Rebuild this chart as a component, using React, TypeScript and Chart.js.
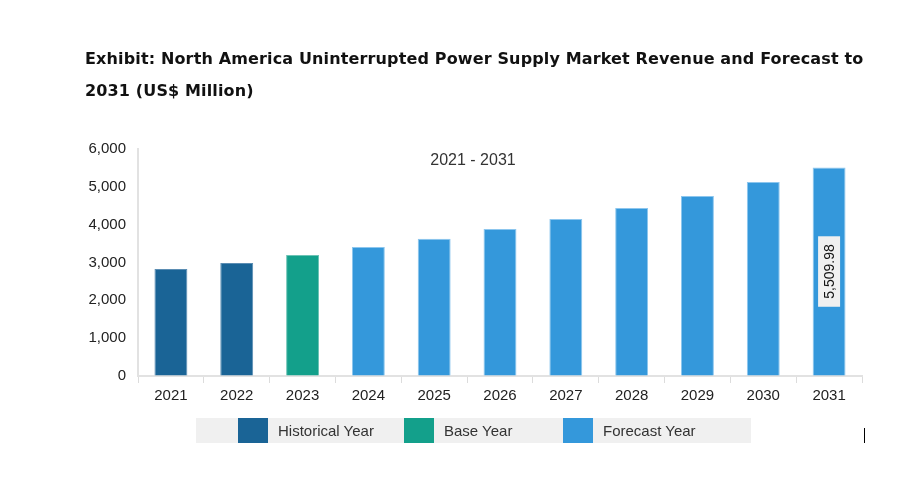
import React, { useEffect, useRef } from "react";
import { Chart, registerables } from "chart.js";

Chart.register(...registerables);

const titleLines = [
  "Exhibit: North America Uninterrupted Power Supply Market Revenue and Forecast to",
  "2031 (US$ Million)",
];
const years = ["2021", "2022", "2023", "2024", "2025", "2026", "2027", "2028", "2029", "2030", "2031"];
const revenue = [2828, 2990, 3198, 3410, 3625, 3885, 4150, 4440, 4760, 5130, 5509.98];
const yearType = ["h", "h", "b", "f", "f", "f", "f", "f", "f", "f", "f"];
const yTicks = [0, 1000, 2000, 3000, 4000, 5000, 6000];
const periodLabel = "2021 - 2031";
const legendItems = [
  { key: "h", label: "Historical Year" },
  { key: "b", label: "Base Year" },
  { key: "f", label: "Forecast Year" },
];
const colors: Record<string, string> = { h: "#1a6496", b: "#13a08b", f: "#3498db" };
const borderColors: Record<string, string> = { h: "#5b8db3", b: "#6cc3b5", f: "#8cc6ee" };

const FONT = "'Liberation Sans', Arial, sans-serif";

const overlayPlugin = {
  id: "overlay",
  afterDatasetsDraw(chart: any) {
    const { ctx, chartArea } = chart;
    ctx.save();
    ctx.font = `16px ${FONT}`;
    ctx.fillStyle = "#333";
    ctx.textAlign = "center";
    ctx.textBaseline = "middle";
    ctx.fillText(periodLabel, (chartArea.left + chartArea.right) / 2 - 27, chartArea.top + 12);

    const meta = chart.getDatasetMeta(0);
    const last = revenue.length - 1;
    const el = meta.data[last];
    const cx = el.x;
    const cy = (el.y + el.base) / 2;
    const text = revenue[last].toLocaleString("en-US", { minimumFractionDigits: 2, maximumFractionDigits: 2 });
    ctx.translate(cx, cy);
    ctx.rotate(-Math.PI / 2);
    ctx.font = `14px ${FONT}`;
    const w = ctx.measureText(text).width;
    ctx.fillStyle = "#f0f0f0";
    ctx.fillRect(-w / 2 - 8, -11, w + 16, 22);
    ctx.fillStyle = "#111";
    ctx.fillText(text, 0, 1);
    ctx.restore();
  },
};

export default function App() {
  const ref = useRef<HTMLCanvasElement>(null);
  useEffect(() => {
    if (!ref.current) return;
    const chart = new Chart(ref.current, {
      type: "bar",
      data: {
        labels: years,
        datasets: [
          {
            data: revenue,
            backgroundColor: yearType.map((t) => colors[t]),
            borderColor: yearType.map((t) => borderColors[t]),
            borderWidth: 1,
            barPercentage: 0.5,
            categoryPercentage: 1,
          },
        ],
      },
      options: {
        animation: false,
        responsive: false,
        maintainAspectRatio: false,
        layout: { padding: { left: 80, right: 39, top: 141, bottom: 73 } },
        plugins: { legend: { display: false }, tooltip: { enabled: false }, title: { display: false } },
        scales: {
          x: {
            offset: true,
            grid: { offset: true, drawOnChartArea: false, drawTicks: true, tickLength: 7, color: "#dcdcdc" },
            border: { display: true, color: "#e2e2e2", width: 2 },
            ticks: { color: "#222", font: { family: FONT, size: 15 }, padding: 4 },
            afterFit: (s: any) => { s.height = 40; },
          },
          y: {
            min: 0,
            max: 6000,
            afterBuildTicks: (s: any) => { s.ticks = yTicks.map((v) => ({ value: v })); },
            grid: { drawOnChartArea: false, drawTicks: false },
            border: { display: true, color: "#e2e2e2", width: 2 },
            ticks: {
              color: "#222",
              font: { family: FONT, size: 15 },
              padding: 12,
              callback: (v: any) => Number(v).toLocaleString("en-US"),
            },
            afterFit: (s: any) => { s.width = 50; },
          },
        },
      },
      plugins: [overlayPlugin],
    });
    return () => chart.destroy();
  }, []);

  return (
    <div style={{ position: "relative", width: 893, height: 481 }}>
      <canvas ref={ref} width={893} height={481} style={{ position: "absolute", left: 0, top: 0 }} />
      <div
        style={{
          position: "absolute",
          left: 77,
          top: 35,
          fontFamily: "'DejaVu Sans', sans-serif",
          fontWeight: "bold",
          fontSize: 16,
          letterSpacing: "0.14px",
          lineHeight: "32px",
          color: "#111",
          whiteSpace: "nowrap",
        }}
      >
        {titleLines.map((l, i) => (
          <div key={i}>{l}</div>
        ))}
      </div>
      <div
        style={{
          position: "absolute",
          left: 188,
          top: 410,
          width: 555,
          height: 25,
          background: "#f0f0f0",
        }}
      >
        {legendItems.map((it, i) => {
          const sq = [42, 208, 367][i];
          return (
            <React.Fragment key={it.key}>
              <div style={{ position: "absolute", left: sq, top: 0, width: 30, height: 25, background: colors[it.key] }} />
              <div
                style={{
                  position: "absolute",
                  left: sq + 40,
                  top: 0,
                  height: 25,
                  lineHeight: "25px",
                  fontFamily: FONT,
                  fontSize: 15,
                  color: "#333",
                  whiteSpace: "nowrap",
                }}
              >
                {it.label}
              </div>
            </React.Fragment>
          );
        })}
      </div>
      <div style={{ position: "absolute", left: 856, top: 420, width: 1, height: 15, background: "#000" }} />
    </div>
  );
}
